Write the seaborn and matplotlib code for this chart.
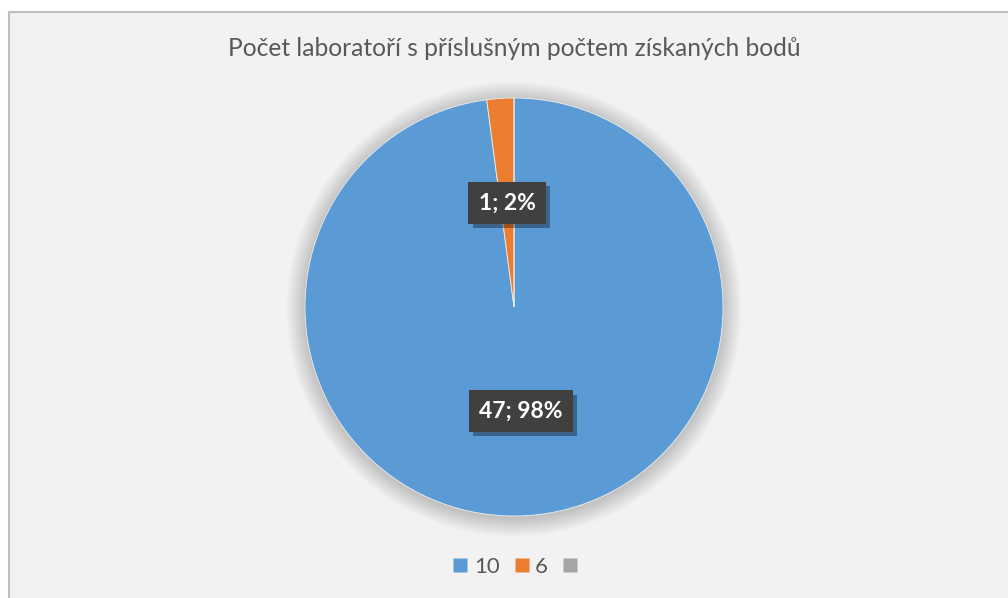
import matplotlib
matplotlib.use("Agg")
import matplotlib.pyplot as plt
import matplotlib.patheffects as pe
from matplotlib.patches import Rectangle, Circle
from matplotlib.lines import Line2D
import seaborn as sns

categories = ["10", "6", ""]
counts = [47, 1, 0]
colors = ["#5B9BD5", "#ED7D31", "#A5A5A5"]
title = "Počet laboratoří s příslušným počtem získaných bodů"

sns.set_theme(style="white")
plt.rcParams["font.family"] = ["Lato", "DejaVu Sans"]

W, H = 1008, 598
fig = plt.figure(figsize=(W / 100, H / 100), dpi=100, facecolor="white")

# chart area frame
frame = Rectangle((9 / W, -0.05), 1.1, (H - 12) / H + 0.05, transform=fig.transFigure,
                  facecolor="#F2F2F2", edgecolor="#BFBFBF", linewidth=1.5, zorder=-10)
fig.patches.append(frame)

cx, cy, R = 514, 307, 209
half = 240
ax = fig.add_axes([(cx - half) / W, (H - cy - half) / H, 2 * half / W, 2 * half / H])
ax.set_zorder(1)
ax.set_facecolor("none")

total = sum(counts)

def fmt(pct):
    c = int(round(pct * total / 100))
    if c == 0:
        return ""
    return f"{c}; {pct:.0f}%"

wedges, texts, autotexts = ax.pie(counts, colors=colors, startangle=90, counterclock=False,
                                  radius=1.0, autopct=fmt, pctdistance=0.5,
                                  wedgeprops=dict(edgecolor="#EDEDED", linewidth=0.6),
                                  textprops=dict(color="white", fontsize=16.5, fontweight="bold"))
lim = half / R
ax.set_xlim(-lim, lim)
ax.set_ylim(-lim, lim)
ax.set_aspect("equal")
ax.axis("off")

# soft glow shadow around the pie
n = 24
for i in range(n):
    r = 1.0 + 0.09 * (i + 1) / n
    ax.add_patch(Circle((0, -0.01), r, facecolor="black", edgecolor="none", alpha=0.009, zorder=1))

for w in wedges:
    w.set_zorder(2)
for t in autotexts:
    t.set_zorder(5)
    if t.get_text():
        t.set_bbox(dict(boxstyle="square,pad=0.45", facecolor="#404040", edgecolor="none"))
        t.get_bbox_patch().set_path_effects([pe.SimplePatchShadow(offset=(3, -3), shadow_rgbFace="black", alpha=0.35), pe.Normal()])

fig.text(cx / W, 1 - 48 / H, title, ha="center", va="center", fontsize=17.7, color="#595959",
         fontweight="normal")

handles = [Line2D([], [], marker="s", linestyle="none", markersize=9.4, markerfacecolor=c,
                  markeredgecolor="none") for c in colors]
fig.legend(handles, categories, loc="center", bbox_to_anchor=((cx + 3) / W, 1 - 567 / H), ncol=3,
           frameon=False, fontsize=16, labelcolor="#595959", handletextpad=0.15, columnspacing=0.55,
           handlelength=0.9)

fig.savefig("out.png", dpi=100, facecolor="white")
